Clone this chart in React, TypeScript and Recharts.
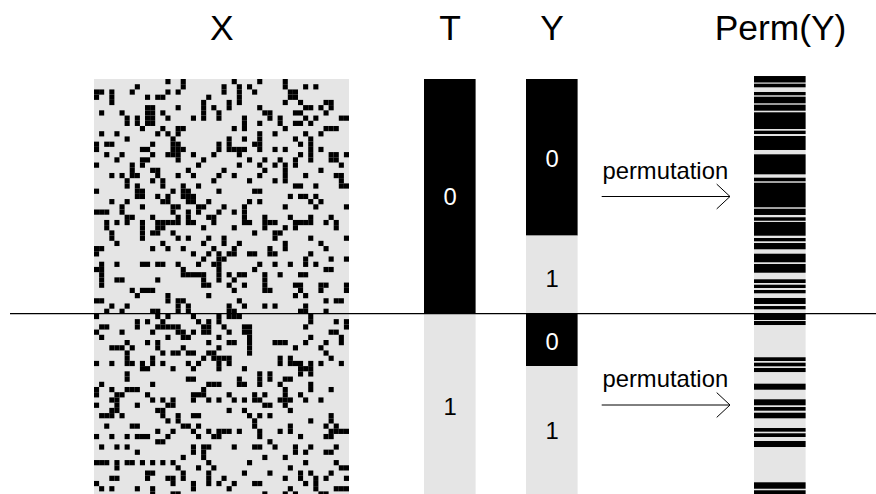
import React from "react";
import { ScatterChart, Scatter, XAxis, YAxis } from "recharts";

// Black cells of X: for each row, the columns that hold a 1.
const xRows: number[][] = [
  [14,17,27,32,37],
  [8,17,25,28,30,37,41,43],
  [0,1,3,7,14,16,25,28,31,38,39],
  [0,3,10,12,13,22,28,38,39],
  [3,21,26,28,37,40,45,46],
  [10,11,16,21,23,26,32,41,42,44,46],
  [1,5,10,11,13,21,24,33,34,39,40,45],
  [6,8,10,11,14,19,21,24,29,34,36,41,43,48,49],
  [6,8,10,11,29,32,36,39,40,42],
  [9,13,16,17,27,29,37,45,46,47],
  [1,4,12,14,16,32,35,41,44],
  [6,15,26,29,32,39,42],
  [0,2,3,11,15,16,24,26,31,32,40,42],
  [0,9,10,15,16,17,24,26,27,28,29,32,35,37,42,44],
  [2,5,11,14,15,16,19,23,28,40,42,46,47,49],
  [4,9,10,16,21,30,33,36,39,42,46,47],
  [0,7,9,20,28,32,35,37,39,48],
  [7,11,12,18,25,33,37,44],
  [3,5,7,8,12,16,19,24,27,32,37,41,47,48],
  [6,11,13,23,30,35,37,48],
  [6,8,13,17,20,39,40,43,48,49],
  [0,8,9,15,17,18,24,31,32],
  [8,9,12,14,17,18,19,38,40,41,43],
  [3,6,13,14,18,19,22,30,32,42,44],
  [5,9,15,16,20,21,25,29,37,43,49],
  [0,1,2,5,15,18,20,24,27,29],
  [6,7,11,16,18,22,23,29,33,38,42,46],
  [2,4,6,9,12,13,14,15,16,18,19,23,29,30,33,34,35,39,40,41,42,45,47],
  [2,9,12,13,21,27,33,37,39,47],
  [3,9,11,12,15,31,35,36],
  [3,9,16,18,22,25,35,42,49],
  [4,13,21,25,28,37,44],
  [0,1,11,14,17,23,27,34,37,45],
  [0,19,22,24,26,27,30,31,34,35,42],
  [21,24,25,41,46,49],
  [1,4,9,10,12,13,16,20,23,24,32,35,38,41,43],
  [0,1,17,24,31,45,46],
  [1,17,18,19,20,21,24,26,28,29,33,36,40,41],
  [1,4,5,12,21,24,27,33],
  [1,21,22,26,29,33,39,40,44,45,49],
  [7,9,10,11,27,33,34,40,44,49],
  [8,14,22,39,41],
  [0,1,14,16,17,28,45,47,48],
  [3,6,16,18,26,29,33,35,41],
  [2,5,11,12,16,18,26,27,40,41,45],
  [0,12,14,19,24,26,27,28,42],
  [8,10,13,20,22,24,42,47,49],
  [1,2,8,12,13,14,15,16,21,22,25,29,30,41,49],
  [0,5,11,16,17,19,21,22,26,29,30,46,47],
  [1,14,17,18,24,30,42,48],
  [6,10,12,22,26,27,30,35,36,37,41,45,48],
  [3,4,5,7,12,17,24,30,39,44],
  [6,13,15,16,18,19,22,23,30,45],
  [6,11,21,23,24,25,26,36,38,46],
  [0,3,6,7,9,11,13,18,20,24,26,36,38,39,40,42,44,48],
  [9,10,15,19,24,29,40,41,42],
  [6,32,34,40,42],
  [6,18,19,28,32,34,37,38],
  [1,11,22,23,24,28,29,32,36,42],
  [0,3,6,7,8,21,37,42,46],
  [0,4,5,10,19,20,21,26,31,33,37,40],
  [3,4,11,13,15,19,22,24,27,29,31,32,36,37,38,41,44],
  [0,4,8,14,15,33,34,37],
  [3,4,12,13,26,29,38],
  [1,2,3,5,13,16,19,20,30,32,34,46],
  [14,16,31,42,46],
  [2,7,8,17,18,20,31,38,45,47],
  [12,15,19,22,24,25,26,28,32,36,38,46,47,48,49],
  [0,3,6,8,9,10,14,20,23,24,32,40,45,46],
  [12,13,34],
  [1,4,6,19,21,22,27,31,32,35,39,42,47],
  [8,19,21,39,41,45,46],
  [17,21,33,37],
  [0,1,2,4,6,7,9,11,13,15,22,30,41,47],
  [4,16,20,23,38,48,49],
  [10,11,17,22,29,34,40,42,46],
  [3,4,10,14,15,17,22,25,37,40,43,45,49],
  [0,15,19,22,24,27,31,32,41,43],
  [1,3,8,11,19,26,38,43,47,48,49],
  [11,15,16,33,37,39,44,45],
];

// Top and bottom group blocks: start row, end row, value.
const tBlocks = [
  { start: 0, end: 45, value: 0 },
  { start: 45, end: 80, value: 1 },
];
const yBlocks = [
  { start: 0, end: 30, value: 0 },
  { start: 30, end: 45, value: 1 },
  { start: 45, end: 55, value: 0 },
  { start: 55, end: 80, value: 1 },
];
// Black bands of Perm(Y), in row units.
const permBands: [number, number][] = [
  [-0.57,0.67],[0.9,1.59],[2.49,3.12],[3.39,4.66],[4.92,6.07],[6.38,9.58],[9.9,10.54],[10.92,13.6],
  [14.43,18.26],[18.91,19.6],[19.87,24.58],[24.85,26.05],[26.49,27.15],[27.39,30.02],[30.46,31.09],
  [31.42,32.62],[33.47,35.11],[35.44,37.11],[38.37,39.08],[39.41,40.04],[40.42,41.05],[41.95,43.1],
  [43.49,44.12],[44.89,46.17],[46.36,47.13],[53.31,54.02],[54.35,55.04],[55.36,56.14],[58.37,59.52],
  [61.36,62.51],[62.84,63.54],[63.93,65],[66.86,67.56],[67.87,68.58],[69.35,70.5],[77.26,78.49],[78.79,79.6],
];
const titles = ["X", "T", "Y", "Perm(Y)"];
const arrowLabels = ["permutation", "permutation"];

const W = 876, H = 494;
const CELL_W = 5.1, CELL_H = 5.22, LEFT = 94, TOP = 79;
const col = (px: number) => (px - LEFT) / CELL_W;
const row = (px: number) => (px - TOP) / CELL_H;
const X_DOMAIN = [col(0), col(W)];
const Y_DOMAIN = [row(0), row(H)];
const T_X = col(424), Y_X = col(526), P_X = col(754), STRIP = col(475.6) - col(424);
const BLACK = "#000000", GREY = "#e5e5e5";

const Block = (props: any) => {
  const { cx, cy, payload } = props;
  return (
    <rect x={cx} y={cy} width={payload.w * CELL_W} height={payload.h * CELL_H} fill={payload.fill} stroke="none" />
  );
};
const Txt = (props: any) => {
  const { cx, cy, payload } = props;
  return (
    <text x={cx} y={cy} textAnchor="middle" fontFamily="'Liberation Sans', Arial, sans-serif" fontSize={payload.size} fill={payload.fill}>
      {payload.text}
    </text>
  );
};
// A straight stroke from the point to the point shifted by (dx, dy) data units.
const Seg = (props: any) => {
  const { cx, cy, payload } = props;
  return (
    <line x1={cx} y1={cy} x2={cx + payload.dx * CELL_W} y2={cy + payload.dy * CELL_H} stroke={BLACK} strokeWidth={payload.sw} />
  );
};

const block = (x: number, y: number, w: number, h: number, fill: string) => ({ x, y, w, h, fill });

const background = [
  block(0, 0, 50, 80, GREY),
  block(P_X, row(76), STRIP, row(494) - row(76), GREY),
];
const xCells = xRows.flatMap((cols, r) => cols.map((c) => block(c, r, 1, 1, BLACK)));
const strips = [
  ...tBlocks.map((b) => block(T_X, b.start, STRIP, b.end - b.start, b.value === 0 ? BLACK : GREY)),
  ...yBlocks.map((b) => block(Y_X, b.start, STRIP, b.end - b.start, b.value === 0 ? BLACK : GREY)),
];
const perm = permBands.map(([a, b]) => block(P_X, a, STRIP, b - a, BLACK));

const titleX = [221.7, 450, 552, 780.5];
const DIGIT = 23.8;
const labels = [
  ...titles.map((t, i) => ({ x: col(titleX[i]), y: row(40), text: t, size: 35.4, fill: BLACK })),
  { x: col(450), y: row(205), text: String(tBlocks[0].value), size: DIGIT, fill: "#ffffff" },
  { x: col(450), y: row(414.5), text: String(tBlocks[1].value), size: DIGIT, fill: BLACK },
  { x: col(552), y: row(167), text: String(yBlocks[0].value), size: DIGIT, fill: "#ffffff" },
  { x: col(552), y: row(286.5), text: String(yBlocks[1].value), size: DIGIT, fill: BLACK },
  { x: col(552), y: row(349.5), text: String(yBlocks[2].value), size: DIGIT, fill: "#ffffff" },
  { x: col(552), y: row(438.5), text: String(yBlocks[3].value), size: DIGIT, fill: BLACK },
  { x: col(665.3), y: row(179.3), text: arrowLabels[0], size: DIGIT, fill: BLACK },
  { x: col(665.3), y: row(387.3), text: arrowLabels[1], size: DIGIT, fill: BLACK },
];

const seg = (x1: number, y1: number, x2: number, y2: number, sw: number) => ({
  x: col(x1), y: row(y1), dx: col(x2) - col(x1), dy: row(y2) - row(y1), sw,
});
const arrow = (y: number) => [
  seg(601.7, y, 730, y, 1),
  seg(716.7, y - 12.4, 730, y, 1),
  seg(716.7, y + 12.4, 730, y, 1),
];
const lines = [seg(10, 313.6, W, 313.6, 1.1), ...arrow(196.5), ...arrow(405)];

export default function App() {
  return (
    <div style={{ position: "absolute", left: 0, top: 0, width: W, height: H, background: "#fff" }}>
      <ScatterChart width={W} height={H} margin={{ top: 0, right: 0, bottom: 0, left: 0 }}>
        <XAxis type="number" dataKey="x" hide domain={X_DOMAIN} allowDataOverflow />
        <YAxis type="number" dataKey="y" hide domain={Y_DOMAIN} reversed allowDataOverflow />
        <Scatter data={background} shape={Block} isAnimationActive={false} />
        <Scatter data={xCells} shape={Block} isAnimationActive={false} />
        <Scatter data={strips} shape={Block} isAnimationActive={false} />
        <Scatter data={perm} shape={Block} isAnimationActive={false} />
        <Scatter data={labels} shape={Txt} isAnimationActive={false} />
        <Scatter data={lines} shape={Seg} isAnimationActive={false} />
      </ScatterChart>
    </div>
  );
}
